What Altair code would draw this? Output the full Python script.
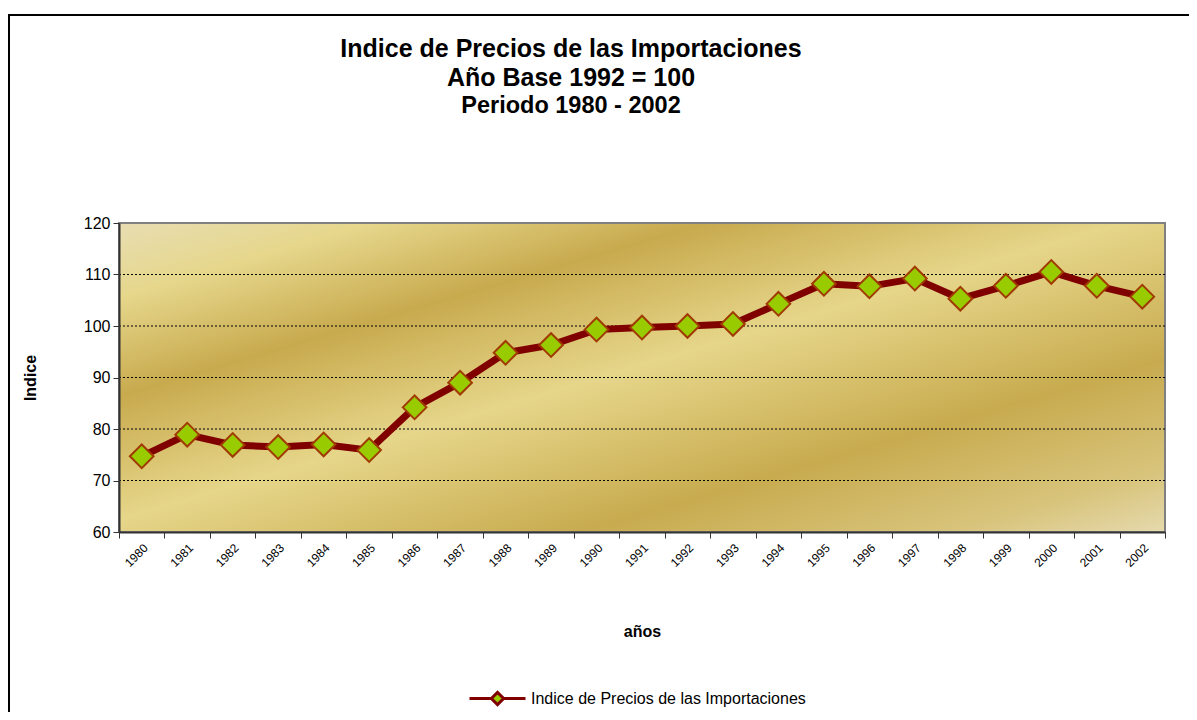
import altair as alt
import pandas as pd

years = ["1980", "1981", "1982", "1983", "1984", "1985", "1986", "1987", "1988", "1989",
         "1990", "1991", "1992", "1993", "1994", "1995", "1996", "1997", "1998", "1999",
         "2000", "2001", "2002"]
values = [74.7, 78.9, 76.9, 76.5, 77.0, 75.9, 84.2, 89.0, 94.8, 96.3, 99.3, 99.7, 100.0,
          100.4, 104.3, 108.2, 107.7, 109.2, 105.3, 107.8, 110.5, 107.8, 105.7]
y_ticks = [60, 70, 80, 90, 100, 110, 120]
grid_values = [70, 80, 90, 100, 110]
series_name = "Indice de Precios de las Importaciones"

FONT = "Liberation Sans"
W, H = 1046, 309

df = pd.DataFrame({"anio": years, "valor": values, "serie": [series_name] * len(years)})
one = pd.DataFrame({"k": [0]})
grid_df = pd.DataFrame({"g": grid_values})

gold = {
    "gradient": "linear", "x1": 0, "y1": 0, "x2": 1, "y2": 1,
    "stops": [
        {"offset": 0.0, "color": "#E8DDB2"},
        {"offset": 0.12, "color": "#E6D78C"},
        {"offset": 0.28, "color": "#C8AA4E"},
        {"offset": 0.48, "color": "#E6D68A"},
        {"offset": 0.72, "color": "#C8AB4F"},
        {"offset": 0.9, "color": "#D8C47C"},
        {"offset": 1.0, "color": "#E6DAAE"},
    ],
}

frame = alt.Chart(one).mark_rect(fillOpacity=0, stroke="black", strokeWidth=2).encode(
    x=alt.value(-110), x2=alt.value(W + 60), y=alt.value(-208), y2=alt.value(H + 250)
)

bg = alt.Chart(one).mark_rect(fill=gold, stroke="#808080", strokeWidth=2).encode(
    x=alt.value(0), x2=alt.value(W), y=alt.value(0), y2=alt.value(H)
)

grid = alt.Chart(grid_df).mark_rule(color="black", strokeWidth=1, strokeDash=[2, 2]).encode(
    y=alt.Y("g:Q")
)

xenc = alt.X(
    "anio:O", sort=years, bandPosition=0.5,
    scale=alt.Scale(type="band", paddingInner=0, paddingOuter=0, domain=years),
    axis=alt.Axis(title="años", labelAngle=-45, labelFontSize=12, labelFont=FONT,
                  labelColor="black", tickBand="extent", tickSize=6, tickColor="#333",
                  domainColor="#333", domainWidth=2, grid=False, zindex=1,
                  titleFont=FONT, titleFontSize=16, titleFontWeight="bold",
                  titleColor="black", titlePadding=55, labelPadding=4),
)
yenc = alt.Y(
    "valor:Q", scale=alt.Scale(domain=[60, 120], nice=False, zero=False),
    axis=alt.Axis(title="Indice", values=y_ticks, labelFontSize=16, labelFont=FONT,
                  labelColor="black", tickSize=6, tickColor="#333", domainColor="#333",
                  domainWidth=2, grid=False, zindex=1, labelPadding=3,
                  titleFont=FONT, titleFontSize=16, titleFontWeight="bold",
                  titleColor="black", titlePadding=45),
)

line = alt.Chart(df).mark_line(color="#800000", strokeWidth=7).encode(x=xenc, y=yenc)

legend_path = "M-1,0 L-0.22,0 M0.22,0 L1,0 M-0.22,0 L0,-0.22 L0.22,0 L0,0.22 Z"

points = alt.Chart(df).mark_point(
    shape="diamond", filled=True, size=560, stroke="#A03A00", strokeWidth=2, opacity=1
).encode(
    x=alt.X("anio:O", sort=years, bandPosition=0.5),
    y=alt.Y("valor:Q"),
    fill=alt.Fill("serie:N", scale=alt.Scale(domain=[series_name], range=["#99CC00"]),
                  legend=alt.Legend(title=None, orient="none", legendX=349, legendY=446,
                                    symbolType=legend_path, symbolSize=3136,
                                    symbolStrokeColor="#800000", symbolStrokeWidth=3,
                                    labelFont=FONT, labelFontSize=16, labelColor="black",
                                    labelOffset=4, labelLimit=600, padding=0)),
)

chart = alt.layer(frame, bg, grid, line, points).properties(
    width=W, height=H,
    title=alt.TitleParams(
        text=["Indice de Precios de las Importaciones", "Año Base 1992 = 100"],
        subtitle="Periodo 1980 - 2002",
        font=FONT, fontSize=25, fontWeight="bold", color="black", lineHeight=29,
        subtitleFont=FONT, subtitleFontSize=23.5, subtitleFontWeight="bold",
        subtitleColor="black", subtitlePadding=3,
        anchor="middle", frame="group", dx=-71, offset=0, dy=103,
    ),
    autosize=alt.AutoSizeParams(type="none"),
    padding={"left": 111, "top": 215, "right": 24, "bottom": 180},
).configure_view(stroke=None).configure(background="white")

chart.save("out.html", embed_options={"renderer": "svg", "actions": False})
